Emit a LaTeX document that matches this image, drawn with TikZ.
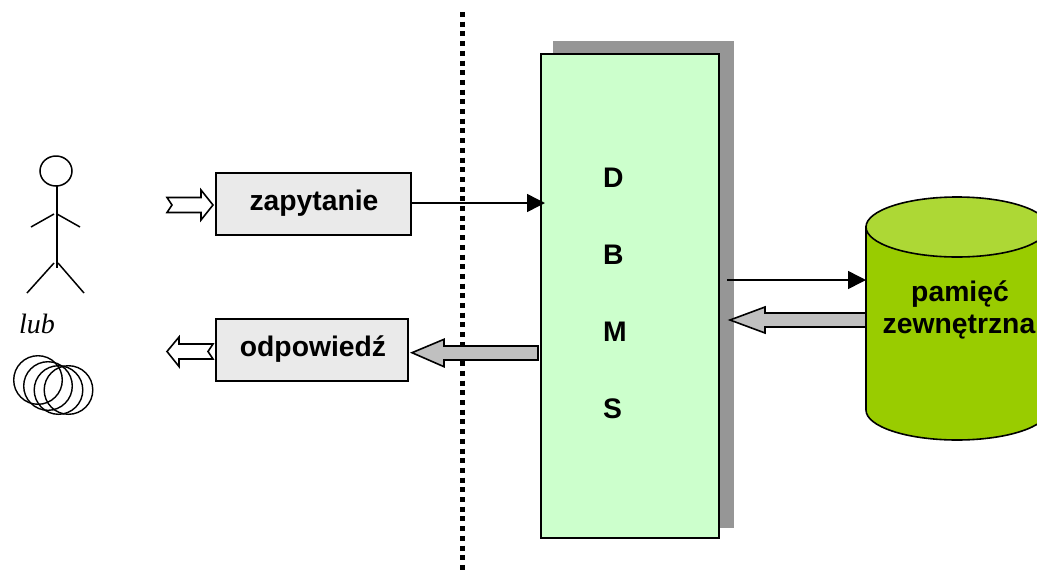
\documentclass[tikz,border=0pt]{standalone}
\usepackage{fontspec}
\setmainfont{Liberation Sans}
\newfontfamily\serifit[ItalicFont=Liberation Serif Italic]{Liberation Serif}
\usepackage{xcolor}
\usetikzlibrary{arrows.meta}
\definecolor{dbmsgreen}{HTML}{CCFFCC}
\definecolor{shadowgray}{HTML}{969696}
\definecolor{boxgray}{HTML}{EAEAEA}
\definecolor{arrowgray}{HTML}{C0C0C0}
\definecolor{storegreen}{HTML}{99CC00}
\definecolor{storetop}{HTML}{ADD835}
\tikzset{
    boxlabel/.style={draw, line width=1.6pt, fill=boxgray, inner sep=0pt},
    biglabel/.style={font=\fontsize{28.3}{33}\selectfont\bfseries, inner sep=0pt},
    thinarrow/.style={line width=1.5pt, -{Triangle[length=18pt,width=18pt]}},
    blockarrow/.style={draw, line width=1.6pt, fill=arrowgray, line join=miter},
    hollowarrow/.style={draw, line width=1.6pt, fill=white},
    figure/.style={line width=1.5pt}
}

\begin{document}
\begin{tikzpicture}[x=1pt,y=-1pt]
    \useasboundingbox (0,0) rectangle (1037,574);

    % separator
    \draw[line width=5pt, dash pattern=on 5pt off 4.7pt] (462.5,12) -- (462.5,574);

    % dbms block
    \fill[shadowgray] (553,41) rectangle (734,528);
    \node[draw, line width=1.6pt, fill=dbmsgreen, minimum width=178pt, minimum height=484pt, inner sep=0pt] (dbms) at (630,296) {};
    \foreach \letter/\ypos in {D/178,B/255,M/332,S/409}
        \node[biglabel, anchor=west] (dbms\letter) at (603,\ypos) {\letter};

    % external store
    \begin{scope}
        \clip (0,0) rectangle (1037,574);
        \draw[line width=1.6pt, fill=storegreen] (866,227) -- (866,410) arc[start angle=180, end angle=0, x radius=91, y radius=30] -- (1048,227) -- cycle;
        \draw[line width=1.6pt, fill=storetop] (957,227) ellipse[x radius=91, y radius=30];
    \end{scope}
    \node[biglabel] (pamiec) at (960,294) {pamięć};
    \node[biglabel] (zewn) at (959,327) {zewnętrzna};

    % request and answer boxes
    \node[boxlabel, minimum width=195pt, minimum height=62pt] (zapytanie) at (313.5,204) {};
    \node[boxlabel, minimum width=192pt, minimum height=62pt] (odpowiedz) at (312,350) {};
    \node[biglabel] (zapytanielabel) at (314,203) {zapytanie};
    \node[biglabel] (odpowiedzlabel) at (313,349) {odpowiedź};

    % person
    \draw[figure] (56,171) ellipse[x radius=16, y radius=15];
    \draw[figure] (57,186) -- (57,268);
    \draw[figure] (31,227) -- (54,214);
    \draw[figure] (57,214) -- (80,227);
    \draw[figure] (54,263) -- (27,293);
    \draw[figure] (58,263) -- (84,293);
    \node[font=\fontsize{28}{32}\selectfont\serifit\itshape, inner sep=0pt] (lub) at (37,324) {lub};

    % programs
    \foreach \xpos/\ypos in {38/380,48/386,58.5/390,68.5/390}
        \draw[line width=1.4pt] (\xpos,\ypos) circle (24.3);

    % small arrows
    \draw[hollowarrow] (167,197.5) -- (172,205) -- (167,212.5) -- (201,212.5) -- (201,220) -- (213,205) -- (201,190) -- (201,197.5) -- cycle;
    \draw[hollowarrow] (167,351.5) -- (179,337) -- (179,344) -- (213,344) -- (208,351.5) -- (213,359) -- (179,359) -- (179,366.5) -- cycle;

    % gray arrows
    \draw[blockarrow] (412,352.7) -- (444,339.3) -- (444,346) -- (538,346) -- (538,360) -- (444,360) -- (444,366.7) -- cycle;
    \draw[blockarrow] (730,320) -- (765,307) -- (765,313) -- (866,313) -- (866,327) -- (765,327) -- (765,333) -- cycle;

    % thin arrows
    \coordinate (dbmsin) at (545,203);
    \coordinate (dbmsout) at (727,280);
    \coordinate (storein) at (866,280);
    \draw[thinarrow] (zapytanie.east |- dbmsin) -- (dbmsin);
    \draw[thinarrow] (dbmsout) -- (storein);
\end{tikzpicture}
\end{document}
